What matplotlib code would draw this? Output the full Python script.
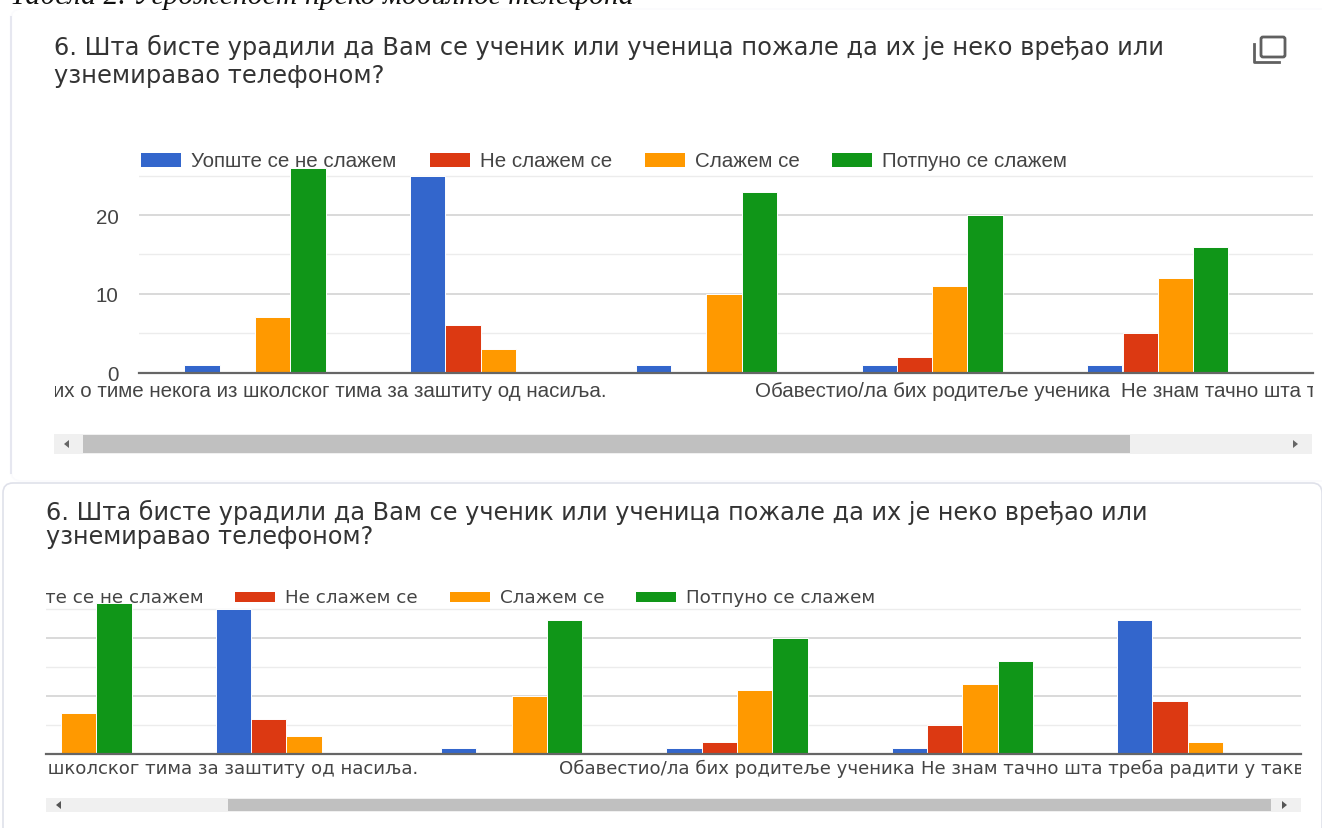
import matplotlib
matplotlib.use('Agg')
import matplotlib.pyplot as plt
from matplotlib.patches import FancyBboxPatch, Polygon, Rectangle
from matplotlib.transforms import Bbox

W, H = 1322, 829

# data
categories = [
    'Обавестио/ла бих о тиме некога из школског тима за заштиту од насиља.',
    '',
    '',
    'Обавестио/ла бих родитеље ученика',
    '',
    'Не знам тачно шта треба радити у таквим ситуацијама',
]
series_names = ['Уопште се не слажем', 'Не слажем се', 'Слажем се', 'Потпуно се слажем']
series_colors = ['#3366cc', '#dc3912', '#ff9900', '#109618']
disagree_fully = [1, 25, 1, 1, 1, 23]
disagree = [0, 6, 0, 2, 5, 9]
agree = [7, 3, 10, 11, 12, 2]
agree_fully = [26, 0, 23, 20, 16, 0]
series_values = [disagree_fully, disagree, agree, agree_fully]
question = ['6. Шта бисте урадили да Вам се ученик или ученица пожале да их је неко вређао или',
            'узнемиравао телефоном?']
caption = 'Табела 2. Угроженост преко мобилног телефона'

SANS = 'Liberation Sans'
TEXT = '#444444'

fig = plt.figure(figsize=(W / 100, H / 100), dpi=100, facecolor='white')

# full page layer in pixels, for the screenshot chrome
page = fig.add_axes([0, 0, 1, 1], zorder=0)
page.set_xlim(0, W)
page.set_ylim(H, 0)
page.axis('off')


def clip_px(left, right, top, bottom):
    return Bbox([[left, H - bottom], [right, H - top]])


def card(x0, y0, x1, y1, color):
    page.add_patch(FancyBboxPatch((x0, y0), x1 - x0, y1 - y0, boxstyle='round,pad=0,rounding_size=10',
                                  fc='white', ec=color, lw=1.2, mutation_aspect=1))


def legend(xs, y, sw_h, font, size, clip):
    for name, col, x in zip(series_names, series_colors, xs):
        r = Rectangle((x, y - sw_h / 2), 40, sw_h, fc=col, ec='none')
        page.add_patch(r)
        r.set_clip_box(clip)
        t = page.text(x + 50, y, name, family=font, fontsize=size, color=TEXT, va='center', ha='left')
        t.set_clip_box(clip)
        t.set_clip_on(True)


def scrollbar(x0, x1, y0, y1, t0, t1, arrow):
    page.add_patch(Rectangle((x0, y0), x1 - x0, y1 - y0, fc='#f0f0f0', ec='none'))
    page.add_patch(Rectangle((t0, y0 + 1), t1 - t0, y1 - y0 - 2, fc='#c0c0c0', ec='none'))
    ym = (y0 + y1) / 2
    page.add_patch(Polygon([(x0 + 15, ym - 4), (x0 + 15, ym + 4), (x0 + 10, ym)], fc=arrow, ec='none'))
    page.add_patch(Polygon([(x1 - 19, ym - 4), (x1 - 19, ym + 4), (x1 - 14, ym)], fc=arrow, ec='none'))


def chart(left, right, top, base, center0, pitch, tick_font, tick_size, pad, label_clip, show_y):
    ax = fig.add_axes([left / W, 1 - base / H, (right - left) / W, (base - top) / H], zorder=2)
    ax.patch.set_alpha(0)
    w = 35.3 / pitch
    for i, (vals, col) in enumerate(zip(series_values, series_colors)):
        xs = [k + (i - 1.5) * w for k in range(len(categories))]
        ax.bar(xs, vals, width=w, color=col, edgecolor='white', linewidth=0.7, zorder=3)
    ax.set_ylim(0, 26.5)
    ax.set_yticks([0, 10, 20])
    ax.set_yticks([5, 15, 25], minor=True)
    ax.grid(True, which='major', axis='y', color='#d0d0d0', lw=1.1, zorder=1)
    ax.grid(True, which='minor', axis='y', color='#ececec', lw=1.0, zorder=1)
    for s in ['top', 'right', 'left']:
        ax.spines[s].set_visible(False)
    ax.spines['bottom'].set_color('#666666')
    ax.spines['bottom'].set_linewidth(1.6)
    ax.spines['bottom'].set_zorder(4)
    ax.tick_params(axis='y', which='both', length=0, labelsize=14.8, labelcolor=TEXT, pad=14.5,
                   labelleft=show_y)
    for lab in ax.get_yticklabels():
        lab.set_family(SANS)
    ax.set_xticks([])
    ax.set_xlim((left - center0) / pitch, (right - center0) / pitch)
    # the chart scrolls sideways, so a label may sit partly or mostly out of view:
    # tick labels would vanish with their tick, annotations stay and get clipped
    for k, name in enumerate(categories):
        if not name:
            continue
        t = ax.annotate(name, (k, 0), xycoords=('data', 'axes fraction'), xytext=(0, -pad),
                        textcoords='offset points', ha='center', va='top', family=tick_font,
                        fontsize=tick_size, color=TEXT, annotation_clip=False)
        t.set_clip_box(label_clip)
        t.set_clip_on(True)
    return ax


# cards: top one only shows its left edge
card(11, 10, 1340, 482, '#fbfbfd')
page.plot([11, 11], [18, 474], color='#e6e7f0', lw=1.5)
card(3, 484, 1322, 860, '#dfe1ea')

# caption cut by the top of the page
page.text(10, 3.5, caption, family='Liberation Serif', style='italic', fontsize=21.4, color='#111111',
          va='baseline', ha='left')

# top panel
for y, line in zip([47, 76], question):
    page.text(54, y, line, family='DejaVu Sans', fontsize=17.4, color='#333333', va='center', ha='left')
# copy icon
page.add_patch(FancyBboxPatch((1261, 38), 24, 20, boxstyle='round,pad=0,rounding_size=2',
                              fc='none', ec='#606060', lw=2))
page.plot([1254, 1254, 1279], [45, 63, 63], color='#606060', lw=2)
legend([141, 430, 645, 832], 161, 14, SANS, 14.8, clip_px(0, W, 140, 180))
chart(139, 1313, 165, 373.5, 255, 225.7, SANS, 14.8, 6, clip_px(55, 1313, 370, 410), True)
scrollbar(54, 1312, 435, 455, 83, 1130, '#666666')

# bottom panel, same chart squeezed a bit
for y, line in zip([512, 537], question):
    page.text(46, y, line, family='DejaVu Sans', fontsize=17.3, color='#333333', va='center', ha='left')
legend([-56, 235, 450, 636], 598, 10, 'DejaVu Sans', 13.2, clip_px(46, W, 580, 610))
chart(46, 1301, 601, 754.5, 61, 225.3, 'DejaVu Sans', 13.1, 4, clip_px(46, 1301, 750, 785), False)
scrollbar(46, 1301, 799, 813, 228, 1271, '#555555')

fig.savefig('out.png', dpi=100)
